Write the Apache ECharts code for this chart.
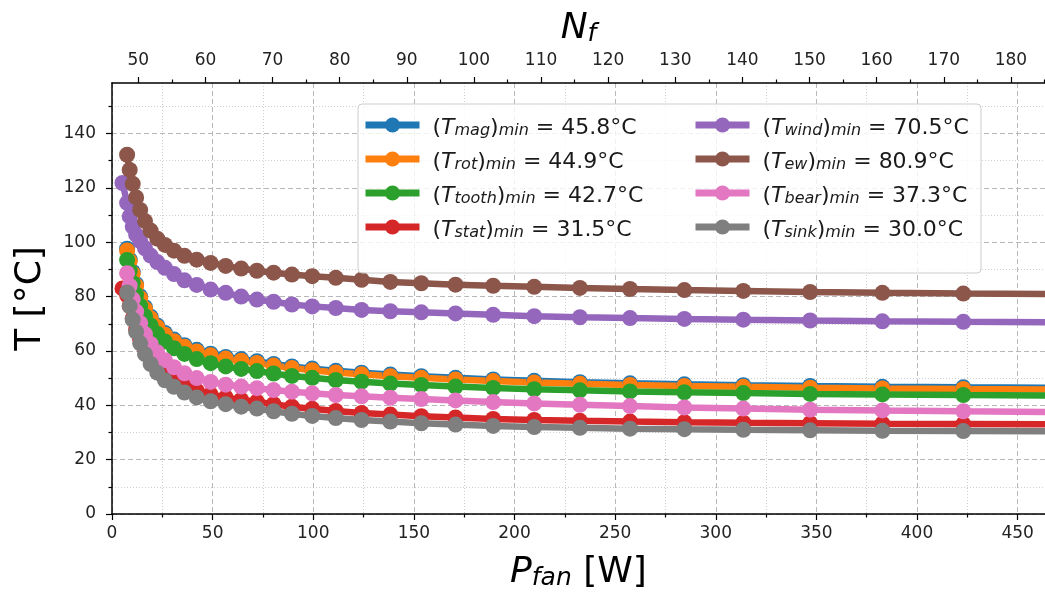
<!DOCTYPE html>
<html><head><meta charset="utf-8">
<script src="https://cdn.jsdelivr.net/npm/echarts@6/dist/echarts.min.js"></script>
<style>html,body{margin:0;padding:0;background:#fff}#c{width:1045px;height:594px}</style>
</head><body><div id="c"></div>
<script>
// ---- data ----
const pFan = [5.2, 7.5, 8.8, 10.3, 12.0, 14.0, 16.4, 19.2, 22.5, 26.3, 30.8, 36.0, 42.1, 49.0, 56.5, 64.2, 72.0, 80.3, 89.4, 99.5, 111.2, 124.0, 138.3, 153.7, 170.7, 189.4, 209.8, 232.5, 257.4, 284.4, 313.7, 346.9, 382.8, 423.0, 467.0];
const T_mag = [null, 97.6, 93.6, 89.1, 84.6, 80.1, 76.1, 72.6, 69.4, 66.6, 64.2, 62.1, 60.4, 59.0, 57.8, 57.0, 56.2, 55.2, 54.3, 53.5, 52.7, 52.0, 51.3, 50.7, 50.1, 49.5, 49.0, 48.5, 48.1, 47.7, 47.4, 47.1, 46.8, 46.6, 46.4];
const T_rot = [null, 97.0, 93.0, 88.5, 84.0, 79.5, 75.5, 72.0, 68.8, 66.0, 63.6, 61.5, 59.8, 58.4, 57.2, 56.4, 55.6, 54.6, 53.7, 52.9, 52.1, 51.4, 50.7, 50.1, 49.5, 48.9, 48.4, 47.9, 47.5, 47.1, 46.8, 46.5, 46.2, 46.0, 45.8];
const T_tooth = [null, 93.5, 89.5, 85.0, 80.8, 76.6, 72.8, 69.4, 66.3, 63.5, 61.0, 58.9, 57.0, 55.5, 54.3, 53.4, 52.6, 51.7, 50.8, 50.1, 49.3, 48.7, 48.0, 47.5, 46.9, 46.4, 45.9, 45.5, 45.1, 44.8, 44.5, 44.2, 44.0, 43.8, 43.6];
const T_stat = [83.0, 80.5, 76.5, 72.0, 68.0, 64.3, 60.6, 57.2, 54.2, 51.6, 49.3, 47.2, 45.4, 44.0, 42.9, 42.0, 41.3, 40.4, 39.5, 38.7, 37.9, 37.2, 36.6, 36.0, 35.5, 35.0, 34.6, 34.3, 34.0, 33.8, 33.6, 33.4, 33.2, 33.1, 33.0];
const T_wind = [121.8, 114.5, 109.5, 105.8, 102.8, 100.4, 97.8, 95.1, 92.7, 90.6, 88.3, 86.0, 84.3, 82.6, 81.4, 80.0, 78.9, 78.1, 77.1, 76.4, 75.8, 75.1, 74.6, 74.2, 73.8, 73.3, 72.8, 72.4, 72.1, 71.8, 71.5, 71.2, 70.9, 70.7, 70.5];
const T_ew = [null, 132.2, 126.6, 121.5, 116.5, 111.9, 107.8, 104.3, 101.3, 99.0, 96.9, 95.0, 93.6, 92.4, 91.3, 90.3, 89.5, 88.8, 88.1, 87.5, 86.9, 86.2, 85.4, 84.9, 84.4, 84.0, 83.6, 83.2, 82.8, 82.4, 82.1, 81.7, 81.4, 81.1, 80.9];
const T_bear = [null, 88.6, 84.0, 79.0, 74.5, 70.2, 66.2, 62.6, 59.5, 56.6, 54.0, 51.8, 50.0, 48.6, 47.6, 46.9, 46.3, 45.6, 45.0, 44.4, 43.8, 43.3, 42.8, 42.3, 41.8, 41.2, 40.7, 40.2, 39.7, 39.2, 38.8, 38.4, 38.1, 37.8, 37.5];
const T_sink = [null, 81.5, 76.5, 71.5, 67.0, 62.8, 58.8, 55.2, 52.0, 49.2, 46.8, 44.7, 42.9, 41.5, 40.4, 39.5, 38.8, 37.8, 36.9, 36.1, 35.3, 34.6, 34.0, 33.4, 32.9, 32.4, 32.0, 31.7, 31.4, 31.2, 31.0, 30.8, 30.6, 30.5, 30.4];

const seriesKeys = ['mag', 'rot', 'tooth', 'stat', 'wind', 'ew', 'bear', 'sink'];
const legendMin = ['45.8', '44.9', '42.7', '31.5', '70.5', '80.9', '37.3', '30.0'];

const xMajorTicks = [0, 50, 100, 150, 200, 250, 300, 350, 400, 450];
const xMinorTicks = [25, 75, 125, 175, 225, 275, 325, 375, 425];
const yMajorTicks = [0, 20, 40, 60, 80, 100, 120, 140];
const yMinorTicks = [10, 30, 50, 70, 90, 110, 130, 150];
const nMajorTicks = [50, 60, 70, 80, 90, 100, 110, 120, 130, 140, 150, 160, 170, 180];
const nMinorTicks = [55, 65, 75, 85, 95, 105, 115, 125, 135, 145, 155, 165, 175, 185];

// ---- styling ----
const FONT = 'DejaVu Sans';
const colors = ['#1f77b4', '#ff7f0e', '#2ca02c', '#d62728', '#9467bd', '#8c564b', '#e377c2', '#7f7f7f'];
const seriesVals = [T_mag, T_rot, T_tooth, T_stat, T_wind, T_ew, T_bear, T_sink];

const series = seriesKeys.map((k, s) => ({
  name: k,
  type: 'line',
  xAxisIndex: 0,
  yAxisIndex: 0,
  data: pFan.map((p, i) => [p, seriesVals[s][i]]).filter(d => d[1] != null),
  symbol: 'circle',
  symbolSize: 16,
  showSymbol: true,
  lineStyle: { width: 6.5, color: colors[s] },
  itemStyle: { color: colors[s] },
  clip: true,
  z: 2,
  emphasis: { disabled: true },
  animation: false
}));

const legendRich = {
  n: { fontFamily: FONT, fontSize: 22, lineHeight: 28, verticalAlign: 'bottom', color: '#1a1a1a' },
  i: { fontFamily: FONT, fontSize: 22, fontStyle: 'italic', lineHeight: 28, verticalAlign: 'bottom', color: '#1a1a1a' },
  s: { fontFamily: FONT, fontSize: 16, fontStyle: 'italic', lineHeight: 16, verticalAlign: 'bottom', color: '#1a1a1a' }
};
function legendFormatter(name) {
  const idx = seriesKeys.indexOf(name);
  return '{n|(}{i|T}{s|' + name + '}{n|)}{s|min}{n| = ' + legendMin[idx] + '°C}';
}
function makeLegend(keys, left) {
  return {
    data: keys,
    orient: 'vertical',
    left: left,
    top: 117,
    padding: 0,
    itemWidth: 54,
    itemHeight: 19,
    itemGap: 12,
    z: 6,
    selectedMode: false,
    lineStyle: { width: 7 },
    formatter: legendFormatter,
    textStyle: { fontFamily: FONT, fontSize: 22, color: '#1a1a1a', padding: [0, 0, 0, 8], rich: legendRich }
  };
}

const titleRich = {
  n: { fontFamily: FONT, fontSize: 36, lineHeight: 40, verticalAlign: 'bottom', color: '#000' },
  i: { fontFamily: FONT, fontSize: 36, fontStyle: 'italic', lineHeight: 40, verticalAlign: 'bottom', color: '#000' },
  s: { fontFamily: FONT, fontSize: 25, fontStyle: 'italic', lineHeight: 22, verticalAlign: 'bottom', color: '#000' }
};

const tickLine = { color: '#000', width: 1.2 };
const majorGrid = { color: '#b8b8b8', type: [5, 3], width: 1 };
const minorGrid = { color: '#cfcfcf', type: [1, 2], width: 1 };
const labelStyle = { fontFamily: FONT, fontSize: 17, color: '#222' };

const option = {
  animation: false,
  backgroundColor: '#fff',
  grid: { left: 112, right: 0, top: 83, bottom: 80, outerBoundsMode: 'none' },
  xAxis: [
    {
      type: 'value', position: 'bottom', min: 0, max: 463.6,
      axisLine: { show: true, onZero: false, lineStyle: { color: '#000', width: 1.5 } },
      axisTick: { show: true, length: 6, customValues: xMajorTicks, lineStyle: tickLine },
      axisLabel: Object.assign({ customValues: xMajorTicks, margin: 11 }, labelStyle),
      splitLine: { show: true, lineStyle: majorGrid },
      name: '{i|P}{s|fan}{n| [W]}', nameLocation: 'middle', nameGap: 37,
      nameTextStyle: { fontFamily: FONT, fontSize: 36, rich: titleRich }
    },
    {
      type: 'value', position: 'bottom', min: 0, max: 463.6,
      axisLine: { show: false, onZero: false },
      axisTick: { show: true, length: 3.5, customValues: xMinorTicks, lineStyle: tickLine },
      axisLabel: { show: false },
      splitLine: { show: true, lineStyle: minorGrid }
    },
    {
      type: 'value', position: 'top', min: 46.08, max: 185.07,
      axisLine: { show: true, onZero: false, lineStyle: { color: '#000', width: 1.5 } },
      axisTick: { show: true, length: 6, customValues: nMajorTicks, lineStyle: tickLine },
      axisLabel: Object.assign({ customValues: nMajorTicks, margin: 14 }, labelStyle),
      splitLine: { show: false },
      name: '{i|N}{s|f}', nameLocation: 'middle', nameGap: 32,
      nameTextStyle: { fontFamily: FONT, fontSize: 36, rich: titleRich }
    },
    {
      type: 'value', position: 'top', min: 46.08, max: 185.07,
      axisLine: { show: false, onZero: false },
      axisTick: { show: true, length: 3.5, customValues: nMinorTicks, lineStyle: tickLine },
      axisLabel: { show: false },
      splitLine: { show: false }
    }
  ],
  yAxis: [
    {
      type: 'value', position: 'left', min: 0, max: 158.6,
      axisLine: { show: true, onZero: false, lineStyle: { color: '#000', width: 1.5 } },
      axisTick: { show: true, length: 6, customValues: yMajorTicks, lineStyle: tickLine },
      axisLabel: Object.assign({ customValues: yMajorTicks, margin: 16 }, labelStyle),
      splitLine: { show: true, lineStyle: majorGrid },
      name: 'T [°C]', nameLocation: 'middle', nameGap: 61, nameRotate: 90,
      nameTextStyle: { fontFamily: FONT, fontSize: 36, lineHeight: 40, color: '#000' }
    },
    {
      type: 'value', position: 'left', min: 0, max: 158.6,
      axisLine: { show: false, onZero: false },
      axisTick: { show: true, length: 3.5, customValues: yMinorTicks, lineStyle: tickLine },
      axisLabel: { show: false },
      splitLine: { show: true, lineStyle: minorGrid }
    }
  ],
  legend: [makeLegend(seriesKeys.slice(0, 4), 362), makeLegend(seriesKeys.slice(4), 692)],
  graphic: [{
    type: 'rect', z: 5, silent: true,
    shape: { x: 358, y: 104, width: 623, height: 169, r: 4 },
    style: { fill: 'rgba(255,255,255,0.8)', stroke: '#cccccc', lineWidth: 1 }
  }],
  series: series
};

const chart = echarts.init(document.getElementById('c'), null, { renderer: 'canvas' });
chart.setOption(option);
</script>
</body></html>
